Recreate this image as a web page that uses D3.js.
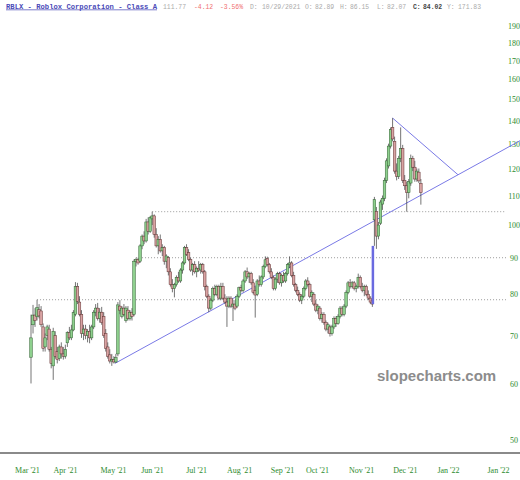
<!DOCTYPE html>
<html><head><meta charset="utf-8">
<script src="https://cdn.jsdelivr.net/npm/d3@7"></script>
<style>html,body{margin:0;padding:0;background:#fff;}svg{display:block;}</style>
</head><body>
<svg id="chart" width="520" height="480"></svg>
<script>
// ---- data (trading-day index 0 = Mar 10 2021) ----
const openP = [65.3,72.5,74.8,74.4,76.1,75.8,72.0,67.5,70.0,71.5,67.0,63.5,70.0,66.5,65.0,67.5,66.0,65.5,68.4,70.7,69.5,71.3,75.0,82.0,78.0,75.0,70.5,71.5,70.0,71.0,69.5,72.0,75.5,76.5,74.0,75.5,74.5,70.5,67.5,65.8,64.5,64.8,64.3,66.0,77.0,74.5,76.5,73.5,76.0,74.0,75.5,75.0,89.0,89.5,89.0,93.5,96.5,95.0,101.0,98.0,102.0,103.0,97.0,93.5,95.5,92.0,93.0,89.0,90.0,86.0,82.5,81.5,82.5,84.5,83.5,86.5,88.5,93.0,91.5,89.5,86.5,88.0,86.0,87.0,86.5,88.0,86.0,82.0,79.5,76.5,78.5,81.5,80.0,82.0,79.0,82.0,79.0,78.0,77.0,79.0,77.0,77.5,77.0,79.5,81.7,81.0,83.5,86.0,84.6,85.5,83.0,81.0,80.0,83.5,82.5,84.6,87.5,89.8,88.0,86.0,84.5,81.5,84.0,85.5,83.0,85.0,83.5,85.5,88.0,88.5,85.0,82.5,81.0,80.0,78.5,79.5,81.5,83.5,82.5,79.5,80.0,77.5,76.0,76.5,74.0,75.0,73.0,71.5,72.0,70.5,72.0,74.0,72.8,74.5,76.5,75.0,77.0,80.5,83.0,82.0,83.0,81.5,82.0,84.5,82.0,81.0,82.0,80.0,79.0,78.5,101.7,104.5,96.5,100.6,107.0,109.0,115.5,121.0,129.0,137.0,131.0,119.0,117.0,124.0,128.0,115.5,113.5,111.0,114.5,124.0,120.5,116.0,118.6,114.4];
const highP = [74.9,77.3,76.5,78.6,77.5,77.0,72.8,70.5,72.5,72.5,67.5,71.8,71.0,67.5,68.0,68.5,67.5,68.0,71.0,72.0,72.5,76.0,83.2,83.0,79.5,76.0,72.5,72.5,71.5,72.5,72.5,76.0,77.5,77.8,76.5,76.8,75.5,71.5,68.5,67.0,66.0,65.5,66.0,78.0,78.5,77.0,77.5,77.0,77.0,76.0,76.5,89.5,90.0,90.0,94.0,97.0,98.0,102.0,102.5,103.0,104.4,103.5,99.0,96.5,97.0,94.0,93.5,91.0,90.5,87.0,84.0,83.0,85.0,86.0,87.0,89.0,93.5,94.0,92.5,90.0,88.5,89.0,87.5,89.0,88.5,88.5,86.5,82.5,80.0,79.0,82.0,82.5,82.5,82.5,83.0,83.0,80.0,79.5,79.5,79.5,78.6,78.5,80.0,82.0,82.5,84.0,86.5,87.2,86.0,86.0,84.0,82.0,84.0,85.0,85.0,88.0,90.4,90.3,88.5,87.0,85.0,84.5,86.0,86.0,85.5,86.0,86.0,88.5,90.4,89.0,86.0,83.0,82.0,80.5,80.0,82.0,84.0,84.5,83.0,81.0,80.5,78.5,77.5,77.0,75.5,75.5,73.5,73.0,72.5,72.5,74.5,74.5,75.0,77.0,77.0,77.5,81.0,83.5,84.0,83.5,83.5,82.5,85.5,85.0,83.0,82.5,82.5,81.0,79.5,79.5,109.5,106.0,101.0,108.5,110.0,116.5,124.0,130.0,137.0,141.2,133.0,122.0,125.0,137.0,129.5,117.5,115.0,116.0,125.5,125.0,123.0,120.0,120.0,116.0];
const lowP = [60.0,70.5,72.0,73.5,74.0,72.0,66.5,66.5,69.0,66.5,63.0,60.7,65.0,64.0,64.5,65.0,64.8,65.0,67.5,69.0,69.0,71.0,74.5,77.5,74.5,69.5,69.0,69.2,68.5,68.3,69.0,71.5,74.5,73.5,73.0,72.5,69.5,66.5,65.0,64.0,63.5,64.0,64.1,65.5,75.0,74.0,74.5,73.0,73.5,73.5,73.5,74.5,87.5,88.0,88.5,92.5,94.0,94.5,97.0,97.5,100.0,96.0,93.0,91.0,91.5,90.5,88.0,87.0,85.0,82.0,80.5,79.2,82.0,83.0,83.0,85.5,88.0,90.5,89.0,86.0,85.0,85.5,84.5,86.0,85.5,85.5,81.0,79.0,75.5,76.0,78.0,79.5,79.5,78.5,78.5,78.5,77.5,72.0,76.5,76.5,73.4,76.0,76.5,79.0,80.5,80.5,83.0,84.0,83.0,82.5,80.0,74.2,79.5,82.0,82.0,84.0,87.0,87.5,85.5,84.0,81.0,81.0,83.0,82.5,82.0,83.0,83.0,85.0,87.0,84.5,82.0,80.5,79.5,78.0,77.5,79.0,81.0,82.0,79.0,78.0,77.0,75.5,75.0,73.5,73.0,72.5,71.0,70.5,69.8,70.0,71.5,72.0,72.5,74.0,74.5,74.5,76.5,80.0,81.5,81.5,81.0,80.5,81.5,81.5,80.5,79.5,79.5,78.5,77.5,76.8,93.5,92.6,95.5,100.0,105.0,108.0,114.5,120.0,128.0,131.0,118.0,115.5,116.0,122.5,114.5,112.0,104.4,109.0,113.5,119.0,115.0,115.0,114.5,106.8];
const closeP = [69.5,74.8,73.5,76.6,74.6,72.5,67.2,69.5,72.0,67.0,64.0,71.0,65.5,64.8,67.5,66.0,65.5,67.0,70.7,69.5,71.3,75.4,82.0,78.2,75.0,70.5,71.5,70.0,71.0,69.5,72.0,75.5,76.5,74.0,75.5,73.0,70.0,67.2,65.5,64.5,64.8,64.3,65.2,77.3,76.0,76.5,75.0,76.5,74.0,75.5,74.5,89.0,89.5,88.5,93.5,96.5,95.0,101.0,98.0,102.5,103.0,97.0,93.5,95.5,92.0,93.0,89.0,90.5,86.0,82.5,81.5,82.5,84.5,83.5,86.5,88.5,93.0,91.0,89.5,86.5,88.0,86.0,87.0,86.5,88.0,86.0,82.0,79.5,76.5,78.5,81.5,80.0,82.0,79.0,82.0,79.0,78.0,77.0,79.0,77.0,77.5,76.5,79.5,81.7,81.0,83.5,86.0,84.6,85.5,83.0,80.5,79.8,83.5,82.5,84.6,87.5,89.4,88.0,86.0,84.5,81.5,84.0,85.5,83.0,85.0,83.5,85.5,88.0,88.5,85.0,82.5,81.0,80.0,78.5,79.5,81.5,83.5,82.5,79.5,80.5,77.5,76.0,77.0,74.0,75.0,73.0,71.5,72.5,70.5,72.0,74.0,72.8,74.5,76.5,75.0,77.0,80.5,83.0,82.0,83.0,81.5,82.0,84.5,82.0,81.0,82.0,80.0,79.0,78.0,77.5,108.5,96.5,100.0,107.7,109.0,115.5,123.0,129.0,136.0,132.0,119.0,117.0,124.0,128.0,115.5,113.5,111.0,115.0,124.0,120.5,116.0,119.0,115.3,111.0];

// axis labels
const yTicks = [50,60,70,80,90,100,110,120,130,140,150,160,170,180,190];
const monthLabels = ["Mar '21","Apr '21","May '21","Jun '21","Jul '21","Aug '21","Sep '21","Oct '21","Nov '21","Dec '21","Jan '22","Jan '22"];
const monthIdx = [-2,16.8,40.6,59.9,81.7,103,124.3,141.6,163.4,185.1,206.4,231.2];

// drawn studies: support levels [startIdx, price]; trend lines [[idx,price],[idx,price]]
const supportStart = [3, 52, 60];
const supportLevel = [78.6, 90.0, 104.4];
const riseLine = [[41.5, 64.0], [211.4, 117.6]];
const fallLine = [[179, 141.2], [211.4, 117.6]];
const gapIdx = 170;

// header text pieces
const header = {
  title: "RBLX - Roblox Corporation - Class A",
  last: "111.77", chg: "-4.12", pct: "-3.56%",
  date: "10/29/2021", o: "82.89", h: "86.15", l: "82.07", c: "84.02", yv: "171.83"
};

const svg = d3.select("#chart");
const n = closeP.length;
const x = d3.scaleLinear().domain([0, n - 1]).range([31, 31 + (n - 1) * 2.02]);
const y = d3.scaleLog().domain([50, 190]).range([440, 26]);
const xMax = x.invert(520);

// header
const mono = "'Liberation Mono','DejaVu Sans Mono',monospace";
const hd = svg.append("g").attr("font-family", mono);
hd.append("text").attr("x", 6).attr("y", 8.5).attr("font-size", 7.2).attr("font-weight", "bold")
  .attr("fill", "#4a4ab8").attr("text-decoration", "underline").attr("textLength", 151)
  .attr("lengthAdjust", "spacingAndGlyphs").text(header.title);
const pieces = [
  [163, header.last, "#aaaaaa", "normal"],
  [194, header.chg, "#f07070", "normal"],
  [220, header.pct, "#f07070", "normal"],
  [250, "D:", "#aaaaaa", "normal"],
  [262, header.date, "#aaaaaa", "normal"],
  [305, "O:", "#aaaaaa", "normal"],
  [315, header.o, "#aaaaaa", "normal"],
  [340, "H:", "#aaaaaa", "normal"],
  [350, header.h, "#aaaaaa", "normal"],
  [377, "L:", "#aaaaaa", "normal"],
  [387, header.l, "#aaaaaa", "normal"],
  [413, "C:", "#444444", "bold"],
  [423, header.c, "#444444", "bold"],
  [447, "Y:", "#aaaaaa", "normal"],
  [458, header.yv, "#aaaaaa", "normal"]
];
pieces.forEach(p => {
  hd.append("text").attr("x", p[0]).attr("y", 8.5).attr("font-size", 6.4)
    .attr("fill", p[2]).attr("font-weight", p[3]).text(p[1]);
});

// watermark
svg.append("text").attr("x", 377).attr("y", 381).attr("font-family", "'Liberation Sans',Arial,sans-serif")
  .attr("font-weight", "bold").attr("font-size", 15).attr("fill", "#8c8c8c").text("slopecharts.com");

// support dotted lines
supportLevel.forEach((lv, i) => {
  svg.append("line").attr("x1", x(supportStart[i])).attr("x2", 506)
    .attr("y1", y(lv)).attr("y2", y(lv))
    .attr("stroke", "#9a9a9a").attr("stroke-width", 1).attr("stroke-dasharray", "1,2");
});

// y axis (right)
const yAxis = d3.axisRight(y).tickValues(yTicks).tickFormat(d3.format("d")).tickSize(0).tickPadding(0);
const ya = svg.append("g").attr("transform", "translate(514,0)").call(yAxis);
ya.select(".domain").remove();
ya.selectAll("text").attr("text-anchor", "middle").attr("fill", "#2e8b2e")
  .attr("font-family", "'Liberation Serif','Times New Roman',serif").attr("font-size", 8);

// bottom separator
svg.append("line").attr("x1", 0).attr("x2", 520).attr("y1", 453).attr("y2", 453)
  .attr("stroke", "#8a8a8a").attr("stroke-width", 2);

// x axis
const xAxis = d3.axisBottom(x).tickValues(monthIdx).tickFormat((d, i) => monthLabels[i]).tickSize(0).tickPadding(0);
const xa = svg.append("g").attr("transform", "translate(0,467)").call(xAxis);
xa.select(".domain").remove();
xa.selectAll("text").attr("fill", "#2e8b2e")
  .attr("font-family", "'Liberation Serif','Times New Roman',serif").attr("font-size", 8);

// trend lines (extend rising line to right edge)
const lineCol = "#7a7ae6";
function extend(pts, toIdx) {
  const [a, b] = pts;
  const px1 = x(a[0]), py1 = y(a[1]), px2 = x(b[0]), py2 = y(b[1]);
  const s = (py2 - py1) / (px2 - px1);
  const ex = x(toIdx);
  return [px1, py1, ex, py1 + s * (ex - px1)];
}
const r = extend(riseLine, xMax);
svg.append("line").attr("x1", r[0]).attr("y1", r[1]).attr("x2", r[2]).attr("y2", r[3])
  .attr("stroke", lineCol).attr("stroke-width", 1);
svg.append("line").attr("x1", x(fallLine[0][0])).attr("y1", y(fallLine[0][1]))
  .attr("x2", x(fallLine[1][0])).attr("y2", y(fallLine[1][1]))
  .attr("stroke", lineCol).attr("stroke-width", 1);

// candles
const idx = d3.range(n);
const bw = 2.6;
const g = svg.append("g");
g.selectAll("line.wick").data(idx).join("line").attr("class", "wick")
  .attr("x1", i => x(i)).attr("x2", i => x(i))
  .attr("y1", i => y(highP[i])).attr("y2", i => y(lowP[i]))
  .attr("stroke", "#3a3a3a").attr("stroke-width", 0.7);
g.selectAll("rect.body").data(idx).join("rect").attr("class", "body")
  .attr("x", i => x(i) - bw / 2).attr("width", bw)
  .attr("y", i => y(Math.max(openP[i], closeP[i])))
  .attr("height", i => Math.max(0.8, Math.abs(y(openP[i]) - y(closeP[i]))))
  .attr("fill", i => closeP[i] >= openP[i] ? "#8ed08e" : "#d9a3a3")
  .attr("stroke", i => closeP[i] >= openP[i] ? "#2f5f2f" : "#5f2f2f")
  .attr("stroke-width", 0.5);

// gap bar (previous close to gap-day low)
svg.append("line").attr("x1", x(gapIdx) - 1.5).attr("x2", x(gapIdx) - 1.5)
  .attr("y1", y(closeP[gapIdx - 1])).attr("y2", y(lowP[gapIdx]))
  .attr("stroke", "#6a6ae0").attr("stroke-width", 2.5);
</script>
</body></html>
